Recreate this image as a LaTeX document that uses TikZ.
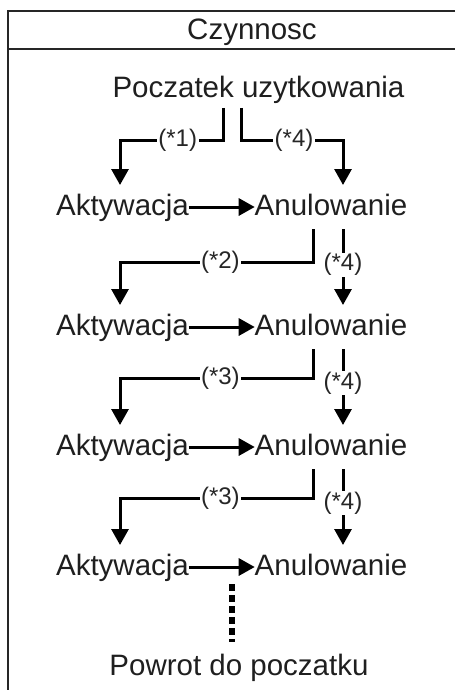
\documentclass[tikz,border=0pt]{standalone}
\usepackage{fontspec}
\setmainfont{Liberation Sans}
\usetikzlibrary{arrows.meta}
\begin{document}
\begin{tikzpicture}[x=1pt,y=-1pt,
  big/.style={font=\fontsize{29.5}{34}\selectfont, inner sep=0pt, anchor=base, text=black!88},
  rowtext/.style={big, text height=22pt, text depth=6pt, outer xsep=0pt, outer ysep=8pt},
  lab/.style={font=\fontsize{24}{28}\selectfont, fill=white, text=black!85, inner xsep=1.5pt, inner ysep=1pt},
  conn/.style={line width=3pt},
  arr/.style={conn, -{Triangle[width=17pt,length=16pt]}},
  frame/.style={line width=2pt, black!85},
  dots/.style={line width=6pt, dash pattern=on 7pt off 4pt}
  ]
\useasboundingbox (0,0) rectangle (455,690);
% frame
\draw[frame] (455,11) -- (8,11) -- (8,690);
\draw[frame] (8,49) -- (455,49);
% texts
\node[big] (title) at (252,40) {Czynnosc};
\node[big, text depth=6pt, outer ysep=4pt] (s) at (258.5,98) {Poczatek uzytkowania};
\foreach \k/\y in {1/215,2/335,3/455,4/575}{
  \node[rowtext] (a\k) at (122.5,\y) {Aktywacja};
  \node[rowtext] (n\k) at (331,\y) {Anulowanie};
  \draw[arr] (a\k.east) -- (n\k.west);
}
\node[big] (e) at (239,675) {Powrot do poczatku};
% bends
\coordinate (h0l) at (120,140);
\coordinate (h0r) at (343,140);
\coordinate (h1) at (120,262);
\coordinate (h2) at (120,378);
\coordinate (h3) at (120,498);
% from start
\draw[arr] ([xshift=-35.5pt]s.south) |- node[lab, pos=0.72] {(*1)} (h0l) -- (a1.north -| h0l);
\draw[arr] ([xshift=-17.5pt]s.south) |- node[lab, pos=0.76] {(*4)} (h0r) -- (n1.north -| h0r);
% row connectors
\draw[arr] ([xshift=-18pt]n1.south) |- node[lab, pos=0.74] {(*2)} (h1) -- (a2.north -| h1);
\draw[arr] ([xshift=-18pt]n2.south) |- node[lab, pos=0.74] {(*3)} (h2) -- (a3.north -| h2);
\draw[arr] ([xshift=-18pt]n3.south) |- node[lab, pos=0.74] {(*3)} (h3) -- (a4.north -| h3);
\draw[arr] ([xshift=12pt]n1.south) -- node[lab, pos=0.47] {(*4)} ([xshift=12pt]n2.north);
\draw[arr] ([xshift=12pt]n2.south) -- node[lab, pos=0.45] {(*4)} ([xshift=12pt]n3.north);
\draw[arr] ([xshift=12pt]n3.south) -- node[lab, pos=0.45] {(*4)} ([xshift=12pt]n4.north);
% dotted return
\coordinate (d1) at (232,584);
\coordinate (d2) at (232,642);
\draw[dots] (d1) -- (d2);
\end{tikzpicture}
\end{document}
